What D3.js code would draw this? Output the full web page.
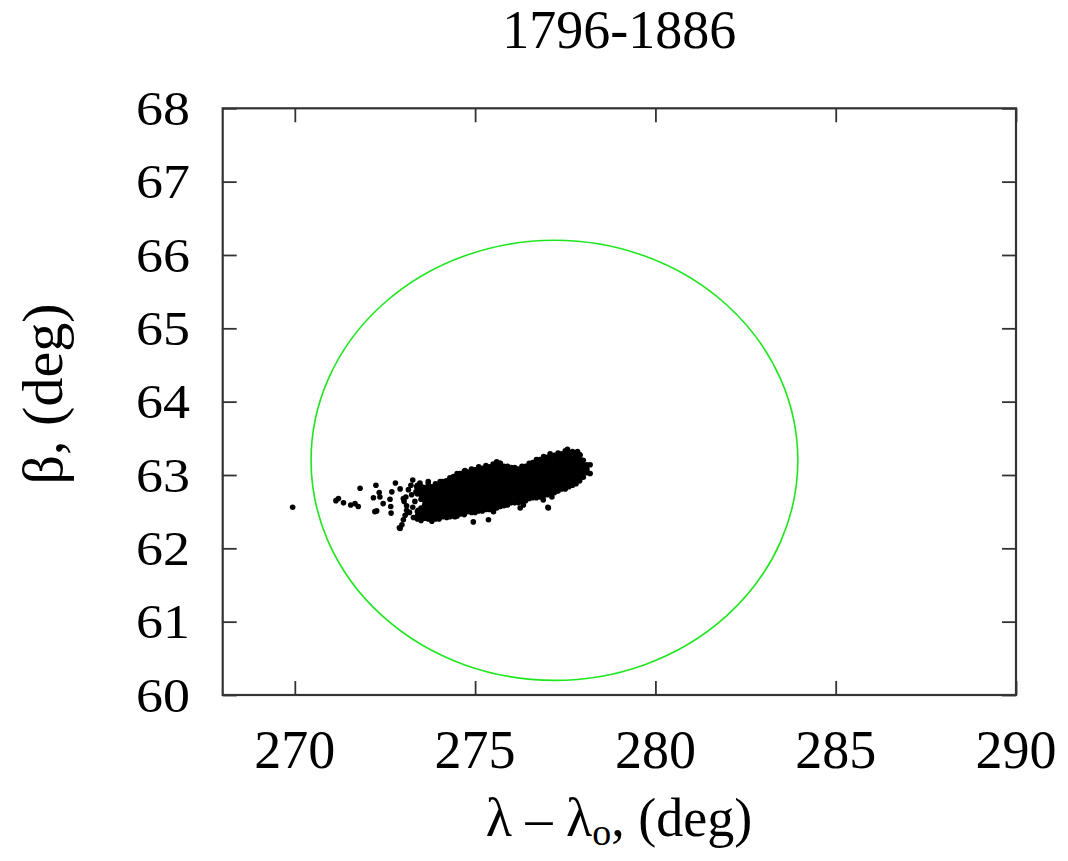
<!DOCTYPE html>
<html>
<head>
<meta charset="utf-8">
<script src="https://cdn.jsdelivr.net/npm/d3@7/dist/d3.min.js"></script>
<style>
  html, body { margin: 0; padding: 0; background: #fff; }
  svg text { font-family: "Liberation Serif", "DejaVu Serif", serif; fill: #000; }
</style>
</head>
<body>
<svg id="chart" width="1068" height="861"></svg>
<script>
// ---- data ----
const title = "1796-1886";
const xTicks = [270, 275, 280, 285, 290];
const yTicks = [60, 61, 62, 63, 64, 65, 66, 67, 68];
const xDomain = [268, 290];
const yDomain = [60, 68];

// green circle (centre and angular radii in degrees)
const circleCenter = [277.2, 63.2];
const circleRadii = [6.75, 3.0];

// isolated points
const scatterX = [269.94, 271.21, 271.14, 271.35, 271.55, 271.67, 271.76, 271.81, 272.25, 272.34,
  272.18, 272.36, 272.27, 272.22, 272.45, 272.66, 272.69, 272.79, 272.64, 272.92,
  272.90, 273.01, 273.06, 273.10, 273.01, 273.15, 273.27, 273.38, 273.47, 273.70,
  274.03, 274.58, 274.72, 273.08, 273.24, 273.33, 273.27, 273.10, 273.03, 273.29,
  273.47, 273.80, 273.94, 274.21, 274.44, 272.67, 272.92, 274.95, 275.37, 272.97,
  275.60, 275.69, 277.08, 277.56, 277.84, 277.91, 278.19, 278.19, 278.10, 276.25,
  276.34, 277.03, 277.13, 276.89, 275.51, 277.02, 273.22, 273.36, 273.18, 273.42];
const scatterY = [62.56, 62.68, 62.65, 62.62, 62.59, 62.61, 62.57, 62.82, 62.86, 62.76,
  62.69, 62.70, 62.51, 62.50, 62.61, 62.57, 62.77, 62.89, 62.67, 62.81,
  62.28, 62.39, 62.45, 62.52, 62.68, 62.80, 62.93, 62.84, 62.89, 62.91,
  62.91, 63.02, 63.06, 62.70, 62.73, 62.64, 62.56, 62.58, 62.64, 62.42,
  62.44, 62.40, 62.41, 62.42, 62.43, 62.48, 62.27, 62.36, 62.39, 62.32,
  63.18, 63.16, 63.29, 63.35, 63.32, 63.27, 63.14, 63.02, 63.05, 62.55,
  62.59, 62.55, 62.70, 62.66, 62.50, 62.56, 62.86, 62.77, 62.49, 62.52];

// dense core of the cloud, listed column by column: [lambda, [beta values]]
const coreColumns = [
  [273.4, [62.86, 62.80, 62.74, 62.50, 62.44, 62.40]],
  [273.5, [62.85, 62.79, 62.73, 62.67, 62.55, 62.49, 62.43, 62.38]],
  [273.6, [62.83, 62.77, 62.71, 62.65, 62.59, 62.53, 62.47, 62.41]],
  [273.7, [62.88, 62.82, 62.76, 62.70, 62.64, 62.58, 62.52, 62.46, 62.40]],
  [273.8, [62.84, 62.78, 62.72, 62.66, 62.60, 62.54, 62.48, 62.42, 62.37]],
  [273.9, [62.88, 62.82, 62.76, 62.70, 62.64, 62.58, 62.52, 62.46, 62.40]],
  [274.0, [62.87, 62.81, 62.75, 62.69, 62.63, 62.57, 62.51, 62.45, 62.40]],
  [274.1, [62.91, 62.85, 62.79, 62.73, 62.67, 62.61, 62.55, 62.49, 62.43]],
  [274.2, [62.92, 62.86, 62.80, 62.74, 62.68, 62.62, 62.56, 62.50, 62.44]],
  [274.3, [62.96, 62.90, 62.84, 62.78, 62.72, 62.66, 62.60, 62.54, 62.48, 62.43]],
  [274.4, [62.98, 62.92, 62.86, 62.80, 62.74, 62.68, 62.62, 62.56, 62.50, 62.44]],
  [274.5, [63.02, 62.96, 62.90, 62.84, 62.78, 62.72, 62.66, 62.60, 62.54, 62.48, 62.44]],
  [274.6, [63.01, 62.95, 62.89, 62.83, 62.77, 62.71, 62.65, 62.59, 62.53, 62.47]],
  [274.7, [63.05, 62.99, 62.93, 62.87, 62.81, 62.75, 62.69, 62.63, 62.57, 62.51, 62.46]],
  [274.8, [63.04, 62.98, 62.92, 62.86, 62.80, 62.74, 62.68, 62.62, 62.56, 62.50]],
  [274.9, [63.08, 63.02, 62.96, 62.90, 62.84, 62.78, 62.72, 62.66, 62.60, 62.54, 62.49]],
  [275.0, [63.07, 63.01, 62.95, 62.89, 62.83, 62.77, 62.71, 62.65, 62.59, 62.53, 62.49]],
  [275.1, [63.11, 63.05, 62.99, 62.93, 62.87, 62.81, 62.75, 62.69, 62.63, 62.57, 62.51]],
  [275.2, [63.09, 63.03, 62.97, 62.91, 62.85, 62.79, 62.73, 62.67, 62.61, 62.55, 62.51]],
  [275.3, [63.13, 63.07, 63.01, 62.95, 62.89, 62.83, 62.77, 62.71, 62.65, 62.59, 62.53]],
  [275.4, [63.11, 63.05, 62.99, 62.93, 62.87, 62.81, 62.75, 62.69, 62.63, 62.57, 62.53]],
  [275.5, [63.15, 63.09, 63.03, 62.97, 62.91, 62.85, 62.79, 62.73, 62.67, 62.61, 62.55]],
  [275.6, [63.13, 63.07, 63.01, 62.95, 62.89, 62.83, 62.77, 62.71, 62.65, 62.59, 62.55]],
  [275.7, [63.16, 63.10, 63.04, 62.98, 62.92, 62.86, 62.80, 62.74, 62.68, 62.62, 62.57]],
  [275.8, [63.12, 63.06, 63.00, 62.94, 62.88, 62.82, 62.76, 62.70, 62.64, 62.58]],
  [275.9, [63.12, 63.06, 63.00, 62.94, 62.88, 62.82, 62.76, 62.70, 62.64, 62.59]],
  [276.0, [63.10, 63.04, 62.98, 62.92, 62.86, 62.80, 62.74, 62.68, 62.62]],
  [276.1, [63.10, 63.04, 62.98, 62.92, 62.86, 62.80, 62.74, 62.68, 62.62]],
  [276.2, [63.08, 63.02, 62.96, 62.90, 62.84, 62.78, 62.72, 62.66, 62.62]],
  [276.3, [63.12, 63.06, 63.00, 62.94, 62.88, 62.82, 62.76, 62.70, 62.64]],
  [276.4, [63.12, 63.06, 63.00, 62.94, 62.88, 62.82, 62.76, 62.70, 62.65]],
  [276.5, [63.16, 63.10, 63.04, 62.98, 62.92, 62.86, 62.80, 62.74, 62.68]],
  [276.6, [63.17, 63.11, 63.05, 62.99, 62.93, 62.87, 62.81, 62.75, 62.69]],
  [276.7, [63.21, 63.15, 63.09, 63.03, 62.97, 62.91, 62.85, 62.79, 62.73, 62.69]],
  [276.8, [63.21, 63.15, 63.09, 63.03, 62.97, 62.91, 62.85, 62.79, 62.73, 62.70]],
  [276.9, [63.25, 63.19, 63.13, 63.07, 63.01, 62.95, 62.89, 62.83, 62.77, 62.72]],
  [277.0, [63.24, 63.18, 63.12, 63.06, 63.00, 62.94, 62.88, 62.82, 62.76, 62.73]],
  [277.1, [63.27, 63.21, 63.15, 63.09, 63.03, 62.97, 62.91, 62.85, 62.79, 62.75]],
  [277.2, [63.27, 63.21, 63.15, 63.09, 63.03, 62.97, 62.91, 62.85, 62.79, 62.76]],
  [277.3, [63.30, 63.24, 63.18, 63.12, 63.06, 63.00, 62.94, 62.88, 62.82, 62.78]],
  [277.4, [63.29, 63.23, 63.17, 63.11, 63.05, 62.99, 62.93, 62.87, 62.81]],
  [277.5, [63.33, 63.27, 63.21, 63.15, 63.09, 63.03, 62.97, 62.91, 62.85, 62.81]],
  [277.6, [63.31, 63.25, 63.19, 63.13, 63.07, 63.01, 62.95, 62.89, 62.84]],
  [277.7, [63.32, 63.26, 63.20, 63.14, 63.08, 63.02, 62.96, 62.90, 62.86]],
  [277.8, [63.28, 63.22, 63.16, 63.10, 63.04, 62.98, 62.92, 62.88]],
  [277.9, [63.28, 63.22, 63.16, 63.10, 63.04, 62.98, 62.92]],
  [278.0, [63.20, 63.14, 63.08, 63.02, 62.97]],
  [278.1, [63.14, 63.08, 63.03]]
];

// ---- layout ----
const W = 1068, H = 861;
const margin = { left: 222.7, right: W - 1016, top: 108.3, bottom: H - 695 };
const svg = d3.select("#chart");

const x = d3.scaleLinear().domain(xDomain).range([margin.left, W - margin.right]);
const y = d3.scaleLinear().domain(yDomain).range([H - margin.bottom, margin.top]);

const points = [];
scatterX.forEach((v, i) => points.push([v, scatterY[i]]));
coreColumns.forEach(([lx, ys]) => ys.forEach(b => points.push([lx, b])));

// circle (ellipse in these coordinates)
svg.append("ellipse")
  .attr("cx", x(circleCenter[0]))
  .attr("cy", y(circleCenter[1]))
  .attr("rx", x(circleCenter[0] + circleRadii[0]) - x(circleCenter[0]))
  .attr("ry", y(circleCenter[1]) - y(circleCenter[1] + circleRadii[1]))
  .attr("fill", "none")
  .attr("stroke", "#1ee61e")
  .attr("stroke-width", 1.6);

// points
svg.append("g").selectAll("circle").data(points).join("circle")
  .attr("cx", d => x(d[0]))
  .attr("cy", d => y(d[1]))
  .attr("r", 2.8)
  .attr("fill", "#000");

// axes with inward ticks, mirrored
const tickLen = 14;
const axStyle = g => {
  g.select(".domain").remove();
  g.selectAll(".tick line").attr("stroke", "#333").attr("stroke-width", 1.8);
  g.selectAll(".tick text").remove();
};
svg.append("g").attr("transform", `translate(0,${H - margin.bottom})`)
  .call(d3.axisTop(x).tickValues(xTicks).tickSize(tickLen)).call(axStyle);
svg.append("g").attr("transform", `translate(0,${margin.top})`)
  .call(d3.axisBottom(x).tickValues(xTicks).tickSize(tickLen)).call(axStyle);
svg.append("g").attr("transform", `translate(${margin.left},0)`)
  .call(d3.axisRight(y).tickValues(yTicks).tickSize(tickLen)).call(axStyle);
svg.append("g").attr("transform", `translate(${W - margin.right},0)`)
  .call(d3.axisLeft(y).tickValues(yTicks).tickSize(tickLen)).call(axStyle);

// frame
svg.append("rect")
  .attr("x", margin.left).attr("y", margin.top)
  .attr("width", W - margin.right - margin.left)
  .attr("height", H - margin.bottom - margin.top)
  .attr("fill", "none").attr("stroke", "#333").attr("stroke-width", 2.2);

// tick labels
svg.append("g").selectAll("text").data(xTicks).join("text")
  .attr("x", d => x(d)).attr("y", 768)
  .attr("text-anchor", "middle")
  .attr("font-size", 54)
  .text(d => d);

svg.append("g").selectAll("text").data(yTicks).join("text")
  .attr("transform", d => `translate(190,${y(d)}) scale(1,0.9)`)
  .attr("text-anchor", "end")
  .attr("dy", "0.34em")
  .attr("font-size", 54)
  .text(d => d);

// title
svg.append("text").attr("x", (margin.left + W - margin.right) / 2).attr("y", 48)
  .attr("text-anchor", "middle").attr("font-size", 54).text(title);

// axis titles
const xt = svg.append("text").attr("x", 619).attr("y", 836)
  .attr("text-anchor", "middle").attr("font-size", 54);
xt.append("tspan").text("λ – λ");
xt.append("tspan").attr("font-size", 38).attr("dy", 9).text("o");
xt.append("tspan").attr("dy", -9).text(", (deg)");

svg.append("text")
  .attr("transform", "translate(62,394) rotate(-90)")
  .attr("text-anchor", "middle").attr("font-size", 58)
  .text("β, (deg)");
</script>
</body>
</html>
